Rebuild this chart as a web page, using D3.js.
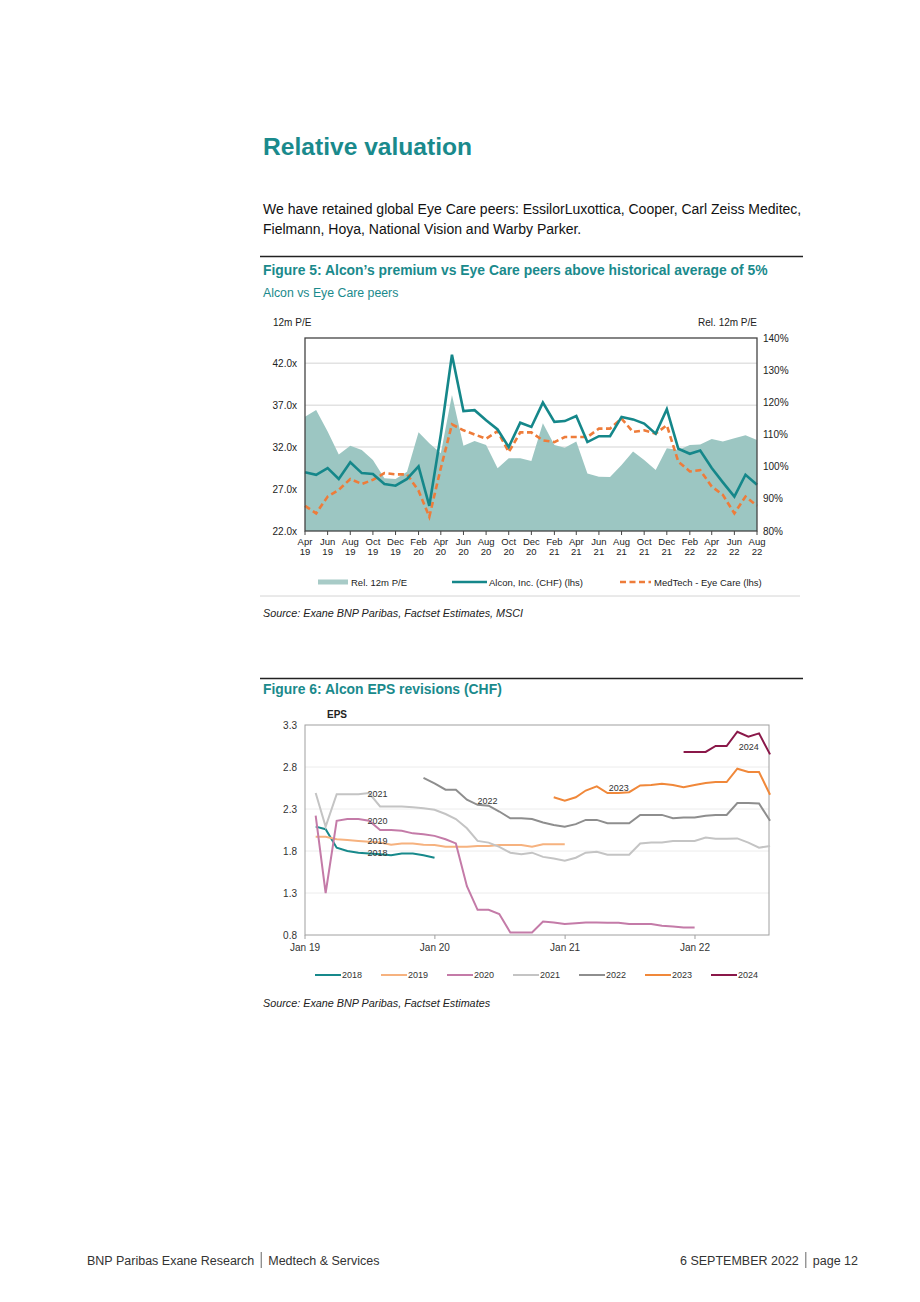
<!DOCTYPE html>
<html>
<head>
<meta charset="utf-8">
<script src="https://cdn.jsdelivr.net/npm/d3@7"></script>
<style>
body { margin: 0; background: #fff; }
text { font-family: 'Liberation Sans', Arial, sans-serif; }
</style>
</head>
<body>
<script>
// figure 5 : monthly, Apr 19 -> Aug 22
const firstMonth = new Date(2019, 3, 1)
const relPE = [115.5, 117.6, 110.9, 103.8, 106.5, 105.2, 102.1, 96.4, 96.2,
  98.4, 110.7, 107.3, 104.2, 122.3, 106.5, 108.0, 106.7, 99.5, 102.6, 102.6, 101.8,
  113.5, 106.7, 105.9, 107.8, 97.9, 96.9, 96.8, 100.5, 104.7, 102.1, 99.0, 105.7,
  105.2, 106.7, 106.9, 108.6, 107.8, 108.8, 109.8, 108.3]
const alcon = [29.0, 28.7, 29.5, 28.2, 30.2, 28.9, 28.8, 27.6, 27.4,
  28.2, 29.7, 25.0, 33.5, 43.0, 36.3, 36.4, 35.2, 34.1, 32.0, 34.9, 34.4,
  37.3, 35.0, 35.1, 35.7, 32.6, 33.3, 33.3, 35.6, 35.3, 34.8, 33.6, 36.5,
  31.8, 31.2, 31.6, 29.5, 27.8, 26.1, 28.7, 27.5]
const medtech = [25.0, 24.1, 26.1, 26.9, 28.2, 27.6, 28.1, 28.9, 28.75,
  28.75, 26.8, 23.7, 29.5, 34.7, 34.0, 33.5, 33.0, 33.9, 31.4, 33.75, 33.75,
  32.8, 32.6, 33.2, 33.2, 33.2, 34.2, 34.2, 35.4, 33.8, 34.0, 33.6, 34.6,
  30.25, 29.1, 29.25, 27.3, 26.3, 24.1, 26.1, 25.0]
const leftTicks = [22, 27, 32, 37, 42]
const rightTicks = [80, 90, 100, 110, 120, 130, 140]

// figure 6 : EPS by fiscal year, month-end values
const epsYears = ['2018', '2019', '2020', '2021', '2022', '2023', '2024']
const epsStart = [[2019, 0], [2019, 0], [2019, 0], [2019, 0], [2019, 10], [2020, 10], [2021, 10]]
const eps2018 = [2.09, 2.06, 1.84, 1.80, 1.78, 1.77, 1.76, 1.75, 1.77, 1.77, 1.75, 1.72]
const eps2019 = [1.97, 1.97, 1.94, 1.93, 1.92, 1.91, 1.90, 1.875, 1.89, 1.89, 1.875, 1.87,
  1.85, 1.85, 1.85, 1.86, 1.86, 1.87, 1.87, 1.87, 1.85, 1.88, 1.88, 1.88]
const eps2020 = [2.22, 1.30, 2.16, 2.18, 2.18, 2.16, 2.05, 2.05, 2.04, 2.01, 2.00, 1.98,
  1.94, 1.89, 1.38, 1.10, 1.10, 1.05, 0.83, 0.83, 0.83, 0.96, 0.95, 0.93,
  0.94, 0.95, 0.95, 0.945, 0.945, 0.93, 0.93, 0.93, 0.91, 0.90, 0.89, 0.89]
const eps2021 = [2.49, 2.09, 2.475, 2.475, 2.475, 2.49, 2.33, 2.33, 2.33, 2.32, 2.31, 2.29,
  2.24, 2.18, 2.07, 1.92, 1.90, 1.85, 1.78, 1.76, 1.78, 1.73, 1.71, 1.685,
  1.72, 1.78, 1.79, 1.755, 1.755, 1.755, 1.89, 1.90, 1.90, 1.92, 1.92, 1.92,
  1.96, 1.945, 1.945, 1.95, 1.90, 1.84, 1.86]
const eps2022 = [2.67, 2.605,
  2.53, 2.53, 2.41, 2.35, 2.34, 2.27, 2.19, 2.19, 2.18, 2.14, 2.11, 2.09,
  2.12, 2.17, 2.17, 2.13, 2.13, 2.13, 2.23, 2.23, 2.23, 2.19, 2.20, 2.20,
  2.22, 2.23, 2.23, 2.37, 2.37, 2.365, 2.16]
const eps2023 = [2.44, 2.40,
  2.44, 2.52, 2.57, 2.49, 2.49, 2.50, 2.58, 2.585, 2.60, 2.585, 2.56, 2.585,
  2.61, 2.62, 2.62, 2.78, 2.74, 2.74, 2.47]
const eps2024 = [2.98, 2.98, 2.98, 3.05, 3.05, 3.22, 3.16, 3.20, 2.95]
const epsColors = ['#17898b', '#f6b27f', '#c47ba8', '#c4c4c4', '#8e8e8e', '#f0883a', '#8a1849']
const epsTicks = [0.8, 1.3, 1.8, 2.3, 2.8, 3.3]
const epsXTicks = [new Date(2019, 0, 1), new Date(2020, 0, 1), new Date(2021, 0, 1), new Date(2022, 0, 1)]
// in-chart year labels: [year, date, value]
const epsLabels = [['2021', new Date(2019, 6, 24), 2.48], ['2020', new Date(2019, 6, 24), 2.16],
  ['2019', new Date(2019, 6, 24), 1.92], ['2018', new Date(2019, 6, 24), 1.78],
  ['2022', new Date(2020, 4, 28), 2.40], ['2023', new Date(2021, 5, 1), 2.56],
  ['2024', new Date(2022, 5, 1), 3.04]]

const teal = '#1a8a8c'
const svg = d3.select('body').append('svg').attr('width', 920).attr('height', 1302)

// ---- page text
svg.append('text').attr('x', 263).attr('y', 155).text('Relative valuation')
  .attr('font-size', 24.6).attr('font-weight', 'bold').attr('fill', teal)
svg.append('text').attr('x', 263).attr('y', 214).attr('font-size', 14).attr('fill', '#111')
  .text('We have retained global Eye Care peers: EssilorLuxottica, Cooper, Carl Zeiss Meditec,')
svg.append('text').attr('x', 263).attr('y', 234).attr('font-size', 14).attr('fill', '#111')
  .text('Fielmann, Hoya, National Vision and Warby Parker.')

svg.append('line').attr('x1', 260).attr('x2', 803).attr('y1', 256.5).attr('y2', 256.5)
  .attr('stroke', '#222').attr('stroke-width', 1.5)
svg.append('text').attr('x', 263).attr('y', 275).attr('font-size', 13.9).attr('font-weight', 'bold')
  .attr('fill', teal).text('Figure 5: Alcon\u2019s premium vs Eye Care peers above historical average of 5%')
svg.append('text').attr('x', 263).attr('y', 297).attr('font-size', 12.3).attr('fill', teal)
  .text('Alcon vs Eye Care peers')

// ---- figure 5
const months = relPE.map((d, i) => d3.timeMonth.offset(firstMonth, i))
const x5 = d3.scaleTime().domain([months[0], months[months.length - 1]]).range([305, 757])
const yL = d3.scaleLinear().domain([22, 45]).range([531, 338])
const yR = d3.scaleLinear().domain([80, 140]).range([531, 338])
const f5 = svg.append('g').style('font-family', "'Liberation Sans Narrow','Liberation Sans',Arial,sans-serif")

f5.selectAll('.grid5').data(leftTicks.slice(1)).enter().append('line')
  .attr('x1', 305).attr('x2', 757).attr('y1', d => yL(d)).attr('y2', d => yL(d))
  .attr('stroke', '#e2e2e2').attr('stroke-width', 1.5)

f5.append('path').datum(relPE)
  .attr('d', d3.area().x((d, i) => x5(months[i])).y0(yR(80)).y1(d => yR(d)))
  .attr('fill', '#9cc6c2')

f5.append('path').datum(medtech)
  .attr('d', d3.line().x((d, i) => x5(months[i])).y(d => yL(d)))
  .attr('fill', 'none').attr('stroke', '#ee7c3a').attr('stroke-width', 2.6)
  .attr('stroke-dasharray', '6,3.5')
f5.append('path').datum(alcon)
  .attr('d', d3.line().x((d, i) => x5(months[i])).y(d => yL(d)))
  .attr('fill', 'none').attr('stroke', '#15878a').attr('stroke-width', 2.6)

f5.append('rect').attr('x', 305).attr('y', 338).attr('width', 452).attr('height', 193)
  .attr('fill', 'none').attr('stroke', '#444').attr('stroke-width', 1.3)

const xTicks5 = months.filter((d, i) => i % 2 === 0)
f5.selectAll('.xt5').data(xTicks5).enter().append('line')
  .attr('x1', d => x5(d)).attr('x2', d => x5(d)).attr('y1', 531).attr('y2', 535)
  .attr('stroke', '#444')
f5.selectAll('.xm5').data(xTicks5).enter().append('text')
  .attr('x', d => x5(d)).attr('y', 545).attr('text-anchor', 'middle')
  .attr('font-size', 9.5).attr('fill', '#222').text(d3.timeFormat('%b'))
f5.selectAll('.xy5').data(xTicks5).enter().append('text')
  .attr('x', d => x5(d)).attr('y', 555).attr('text-anchor', 'middle')
  .attr('font-size', 9.5).attr('fill', '#222').text(d3.timeFormat('%y'))

f5.selectAll('.yl5').data(leftTicks).enter().append('text')
  .attr('x', 297).attr('y', d => yL(d) + 3.5).attr('text-anchor', 'end')
  .attr('font-size', 10).attr('fill', '#222').text(d => d.toFixed(1) + 'x')
f5.selectAll('.yr5').data(rightTicks).enter().append('text')
  .attr('x', 763).attr('y', d => yR(d) + 3.5)
  .attr('font-size', 10).attr('fill', '#222').text(d => d + '%')
f5.append('text').attr('x', 273).attr('y', 326).attr('font-size', 10).attr('fill', '#222').text('12m P/E')
f5.append('text').attr('x', 757).attr('y', 326).attr('text-anchor', 'end')
  .attr('font-size', 10).attr('fill', '#222').text('Rel. 12m P/E')

// legend 5
const lg5 = f5.append('g').attr('transform', 'translate(0,582)')
lg5.append('rect').attr('x', 318).attr('y', -2.5).attr('width', 30).attr('height', 5).attr('fill', '#a8cbc7')
lg5.append('text').attr('x', 351).attr('y', 3.5).attr('font-size', 9.5).attr('fill', '#222').text('Rel. 12m P/E')
lg5.append('line').attr('x1', 452).attr('x2', 487).attr('y1', 0).attr('y2', 0)
  .attr('stroke', '#15878a').attr('stroke-width', 2.6)
lg5.append('text').attr('x', 489).attr('y', 3.5).attr('font-size', 9.5).attr('fill', '#222').text('Alcon, Inc. (CHF) (lhs)')
lg5.append('line').attr('x1', 620).attr('x2', 651).attr('y1', 0).attr('y2', 0)
  .attr('stroke', '#ee7c3a').attr('stroke-width', 2.6).attr('stroke-dasharray', '6,3.5')
lg5.append('text').attr('x', 654).attr('y', 3.5).attr('font-size', 9.5).attr('fill', '#222').text('MedTech - Eye Care (lhs)')

svg.append('line').attr('x1', 260).attr('x2', 800).attr('y1', 596).attr('y2', 596)
  .attr('stroke', '#d4d4d4').attr('stroke-width', 1)
svg.append('text').attr('x', 263).attr('y', 617).attr('font-size', 10.8).attr('font-style', 'italic')
  .attr('fill', '#222').text('Source: Exane BNP Paribas, Factset Estimates, MSCI')

// ---- figure 6
svg.append('line').attr('x1', 260).attr('x2', 803).attr('y1', 678.5).attr('y2', 678.5)
  .attr('stroke', '#222').attr('stroke-width', 1.5)
svg.append('text').attr('x', 263).attr('y', 694).attr('font-size', 13.9).attr('font-weight', 'bold')
  .attr('fill', teal).text('Figure 6: Alcon EPS revisions (CHF)')

const epsValues = [eps2018, eps2019, eps2020, eps2021, eps2022, eps2023, eps2024]
const epsTable = epsYears.map((y, k) => ({
  year: y,
  color: epsColors[k],
  points: epsValues[k].map((v, i) => ({ date: new Date(epsStart[k][0], epsStart[k][1] + i + 1, 0), v }))
}))

const x6 = d3.scaleTime().domain([new Date(2019, 0, 1), new Date(2022, 6, 28)]).range([305, 769])
const y6 = d3.scaleLinear().domain([0.8, 3.3]).range([935, 725])
const f6 = svg.append('g')

f6.selectAll('.grid6').data(epsTicks.slice(1, -1)).enter().append('line')
  .attr('x1', 305).attr('x2', 769).attr('y1', d => y6(d)).attr('y2', d => y6(d))
  .attr('stroke', '#ececec').attr('stroke-width', 1)
f6.append('rect').attr('x', 305).attr('y', 725).attr('width', 464).attr('height', 210)
  .attr('fill', 'none').attr('stroke', '#a0a0a0').attr('stroke-width', 1)

const line6 = d3.line().x(d => x6(d.date)).y(d => y6(d.v))
f6.selectAll('.eps').data(epsTable).enter().append('path')
  .attr('d', d => line6(d.points)).attr('fill', 'none')
  .attr('stroke', d => d.color).attr('stroke-width', 2)

f6.selectAll('.lab6').data(epsLabels).enter().append('text')
  .attr('x', d => x6(d[1])).attr('y', d => y6(d[2]) + 3.5).attr('text-anchor', 'middle')
  .attr('font-size', 9).attr('fill', '#333').text(d => d[0])

f6.selectAll('.yl6').data(epsTicks).enter().append('text')
  .attr('x', 297).attr('y', d => y6(d) + 3.5).attr('text-anchor', 'end')
  .attr('font-size', 10).attr('fill', '#333').text(d => d.toFixed(1))
f6.selectAll('.xt6').data(epsXTicks).enter().append('line')
  .attr('x1', d => x6(d)).attr('x2', d => x6(d)).attr('y1', 935).attr('y2', 939)
  .attr('stroke', '#a0a0a0')
f6.selectAll('.xl6').data(epsXTicks).enter().append('text')
  .attr('x', d => x6(d)).attr('y', 951).attr('text-anchor', 'middle')
  .attr('font-size', 10).attr('fill', '#333').text(d3.timeFormat('Jan %y'))
f6.append('text').attr('x', 327).attr('y', 718).attr('font-size', 10).attr('font-weight', 'bold')
  .attr('fill', '#222').text('EPS')

// legend 6
const lg6 = f6.selectAll('.lg6').data(epsTable).enter().append('g')
  .attr('transform', (d, i) => `translate(${315 + i * 66},975)`)
lg6.append('line').attr('x1', 0).attr('x2', 26).attr('stroke', d => d.color).attr('stroke-width', 2)
lg6.append('text').attr('x', 27).attr('y', 3.2).attr('font-size', 9).attr('fill', '#333').text(d => d.year)

svg.append('text').attr('x', 263).attr('y', 1007).attr('font-size', 10.8).attr('font-style', 'italic')
  .attr('fill', '#222').text('Source: Exane BNP Paribas, Factset Estimates')

// ---- footer
const foot = svg.append('g').attr('font-size', 12.5).attr('fill', '#333')
const fl = foot.append('text').attr('x', 87).attr('y', 1265).text('BNP Paribas Exane Research')
const flw = fl.node().getComputedTextLength()
foot.append('line').attr('x1', 87 + flw + 7).attr('x2', 87 + flw + 7).attr('y1', 1252).attr('y2', 1268).attr('stroke', '#666')
foot.append('text').attr('x', 87 + flw + 14).attr('y', 1265).text('Medtech & Services')
const fr = foot.append('text').attr('x', 858).attr('y', 1265).attr('text-anchor', 'end').text('page 12')
const frw = fr.node().getComputedTextLength()
foot.append('line').attr('x1', 858 - frw - 7).attr('x2', 858 - frw - 7).attr('y1', 1252).attr('y2', 1268).attr('stroke', '#666')
foot.append('text').attr('x', 858 - frw - 14).attr('y', 1265).attr('text-anchor', 'end').text('6 SEPTEMBER 2022')
</script>
</body>
</html>
